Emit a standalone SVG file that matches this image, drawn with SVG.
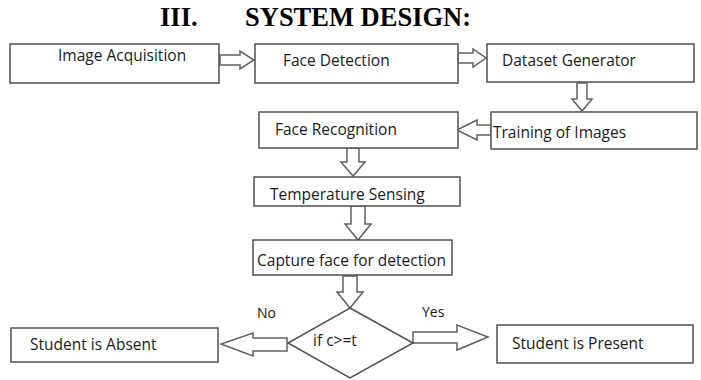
<svg xmlns="http://www.w3.org/2000/svg" width="701" height="380" viewBox="0 0 701 380">
<style>
.box{fill:#fff;stroke:#505050;stroke-width:1.5}
.arr{fill:#fff;stroke:#606060;stroke-width:1.5;stroke-linejoin:miter}
.t{font-family:"Open Sans","Liberation Sans",sans-serif;font-size:15.5px;fill:#1a1a1a}
.title{font-family:"Liberation Serif","Times New Roman",serif;font-weight:bold;font-size:26.5px;fill:#000}
</style>
<rect width="701" height="380" fill="#fff"/>
<text class="title" x="160" y="26">III.</text>
<text class="title" x="245" y="26">SYSTEM DESIGN:</text>
<g id="connectors">
<path class="arr" d="M220,55 H240 V51 L254,60 L240,69 V65 H220 Z"/>
<path class="arr" d="M458,53 H473 V49 L486,58 L473,67 V63 H458 Z"/>
<path class="arr" d="M577,83 V99 H572 L582,111 L592,99 H587 V83 Z"/>
<path class="arr" d="M491,125 H477 V120 L457,130 L477,140 V135 H491 Z"/>
<path class="arr" d="M347,148 V162 H341 L353,176 L365,162 H359 V148 Z"/>
<path class="arr" d="M351,206 V224 H345 L358,240 L371,224 H365 V206 Z"/>
<path class="arr" d="M343,276 V292 H337 L350,308 L363,292 H357 V276 Z"/>
<path class="arr" d="M287,338 H253 V333 L221,344 L253,356 V351 H287 Z"/>
<path class="arr" d="M413,332 H457 V325 L488,337 L457,350 V343 H413 Z"/>
</g>
<g id="n1"><rect class="box" x="10" y="44" width="209" height="39"/><text class="t" x="58" y="61">Image Acquisition</text></g>
<g id="n2"><rect class="box" x="255" y="44" width="203" height="39"/><text class="t" x="283" y="66">Face Detection</text></g>
<g id="n3"><rect class="box" x="487" y="44" width="207" height="38"/><text class="t" x="502" y="66">Dataset Generator</text></g>
<g id="n4"><rect class="box" x="491" y="112" width="206" height="37"/><text class="t" x="493" y="138">Training of Images</text></g>
<g id="n5"><rect class="box" x="259" y="112" width="199" height="36"/><text class="t" x="275" y="135">Face Recognition</text></g>
<g id="n6"><rect class="box" x="254" y="177" width="206" height="29"/><text class="t" x="270" y="200">Temperature Sensing</text></g>
<g id="n7"><rect class="box" x="253" y="240" width="199" height="35"/><text class="t" x="257" y="266">Capture face for detection</text></g>
<g id="n8"><path class="box" d="M350,308 L413,343 L350,378 L288,343 Z"/><text class="t" x="313" y="346">if c&gt;=t</text></g>
<g id="n9"><rect class="box" x="11" y="328" width="207" height="34"/><text class="t" x="30" y="350">Student is Absent</text></g>
<g id="n10"><rect class="box" x="497" y="325" width="196" height="38"/><text class="t" x="512" y="349">Student is Present</text></g>
<text class="t" x="257" y="318" style="font-size:14px">No</text>
<text class="t" x="422" y="317" style="font-size:14px">Yes</text>
</svg>
